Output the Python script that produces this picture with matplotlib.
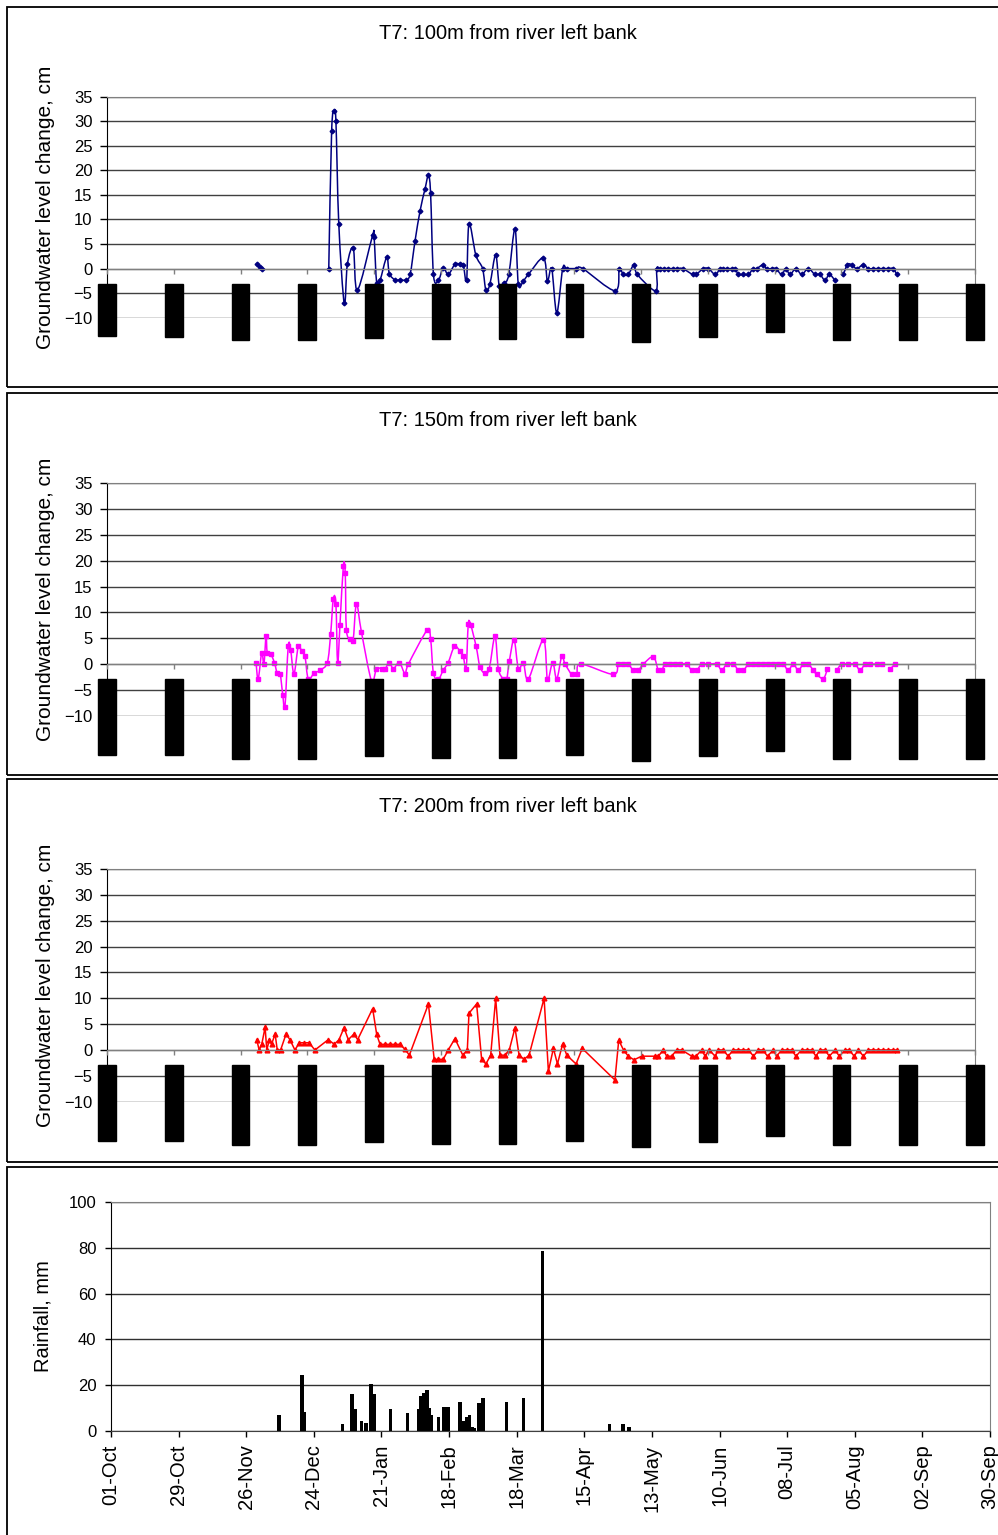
import numpy as np
import matplotlib
matplotlib.use('Agg')
import matplotlib.pyplot as plt
from matplotlib.patches import Rectangle, PathPatch
from matplotlib.path import Path

plt.rcParams['font.family'] = ['Liberation Sans', 'DejaVu Sans']

nan = np.nan

# x axis: days since 01-Oct, ticks every 28 days
tick_days = [0, 28, 56, 84, 112, 140, 168, 196, 224, 252, 280, 308, 336, 364]
tick_labels = ['01-Oct', '29-Oct', '26-Nov', '24-Dec', '21-Jan', '18-Feb', '18-Mar',
               '15-Apr', '13-May', '10-Jun', '08-Jul', '05-Aug', '02-Sep', '30-Sep']

gw_ticks = [-10, -5, 0, 5, 10, 15, 20, 25, 30, 35]
rain_ticks = [0, 20, 40, 60, 80, 100]

# T7 100m
day_100 = [63, 64, 65, nan,
           93, 94.2, 95.3, 96, 97.2, 99.5, 100.8, 103.3, 105, 111.4, 112, 113.1,
           114.5, 117.3, 118.4, 120.8, 122.9, 125.2, 127.1, 129.2, 131.3, 133.4,
           134.8, 135.7, 136.9, 139, 141, 143.1, 145.9, 148, 149.4, 150.8, 151.8,
           154.7, 157.5, 158.9, 160.6, 163, 164.5, 166.5, 168.5, 171.1, 172.5, 174.6,
           176.7, 183, 184.7, 186.5, 188.6, 191.1, 192.8, 196.7, 199.5, 213, 214.8,
           216.5, 218.6, 221, 222.4, 230.1, 230.5, 231.9, 233.6, 235.4, 237.2, 239.2, 241.4,
           245.6, 247, 250.1, 252.2, 255.1, 257.1, 258.5, 260.2, 262, 263.4, 264.8,
           266.9, 269, 271, 272.4, 275.2, 276.6, 278.7, 280.5, 282.9, 284.7, 286.4,
           288.9, 291.3, 294.1, 296.9, 299, 301.1, 302.9, 305.3, nan, 308.8, 310.5, 312.3,
           314.4, 317.2, 319.3, 321.4, 323.5, 325.6, 327.6, 329.7, 331.2]
gw_100 = [1, 0.3, 0, nan,
          0, 28, 32, 30, 9.1, -7.1, 0.9, 4.1, -4.4, 6.8, 6.5, -3,
          -2.4, 2.3, -1, -2.3, -2.3, -2.3, -1.2, 5.7, 11.8, 16.3,
          19, 15.3, -1.2, -2.4, 0.2, -1.2, 0.9, 0.9, 0.7, -2.4, 9.1,
          2.7, 0, -4.4, -3.1, 2.8, -3.5, -3, -1.2, 8.1, -3.2, -2.5,
          -1.2, 2.2, -2.5, 0, -9, 0, 0, 0, 0, -4.5, 0,
          -1.2, -1.2, 0.8, -1.2, -4.5, 0, 0, 0, 0, 0, 0, 0,
          -1.2, -1.2, 0, 0, -1.2, 0, 0, 0, 0, 0, -1.2,
          -1.2, -1.2, 0, 0, 0.8, 0, 0, 0, -1.2, 0, -1.2,
          0, -1.2, 0, -1.2, -1.2, -2.4, -1.2, -2.4, nan, -1.2, 0.8, 0.8,
          0, 0.8, 0, 0, 0, 0, 0, 0, -1.2]

# T7 150m
day_150 = [62.5, 63.4, 64.9, 65.8, 66.7, 67.2, 68.6, 70.2, 71.4, 72.6, 73.7, 74.6,
           76.0, 77.0, 78.4, 80.2, 81.6, 83.0, 84.4, 86.8, 89.3, 92.4, 93.8, 94.9,
           96.0, 96.7, 97.7, 99.1, 99.9, 100.4, 102.1, 103.2, 104.6, 106.7, 110.9, 113.0,
           115.2, 116.6, 118.4, 120.1, 122.6, 125.0, 126.4, 134.3, 135.7, 136.9, 139.0, 141.0,
           143.1, 145.7, 148.0, 149.4, 150.6, 151.5, 152.5, 154.8, 156.4, 158.5, 160.3, 162.7,
           164.1, 166.2, 167.6, 168.7, 170.7, 172.5, 174.6, 176.7, 183.0, 184.7, 186.9, 188.6,
           190.7, 192.1, 194.9, 197.0, 198.7, 212.3, 214.4, 216.5, 218.6, 220.7, 222.8, 224.9,
           229.1, 231.2, 232.6, 234.0, 236.1, 238.2, 240.3, 243.1, 245.2, 247.3, 249.4, 252.2,
           255.7, 257.8, 259.9, 262.7, 264.8, 266.9, 269.0, 271.0, 273.1, 275.2, 277.3, 279.4,
           281.5, 283.6, 285.7, 287.8, 289.9, 292.0, 294.1, 296.2, 297.6, 300.4, 302.1, nan,
           306.0, 308.1, 310.9, 313.7, 315.8, 317.9, 320.0, 322.8, 324.9, nan, 328.4, 330.4]
gw_150 = [0.3, -2.9, 2.2, 0, 5.4, 2.2, 2.0, 0.3, -1.8, -1.9, -5.9, -8.4,
          3.4, 2.8, -1.9, 3.4, 2.5, 1.5, -2.9, -1.8, -1.2, 0.3, 5.9, 12.6,
          11.6, 0.3, 7.6, 18.9, 17.7, 6.6, 4.9, 4.5, 11.6, 6.2, -3.2, -0.9,
          -0.9, -0.9, 0.3, -0.9, 0.3, -1.9, 0, 6.6, 4.9, -1.8, -2.9, -1.2,
          0.3, 3.4, 2.5, 1.5, -0.9, 7.7, 7.6, 3.4, -0.5, -1.8, -0.9, 5.4,
          -0.9, -2.9, -2.9, 0.5, 4.7, -0.9, 0.3, -2.9, 4.7, -2.9, 0.3, -2.9,
          1.5, 0, -2, -2, 0, -2, 0, 0, 0, -1.2, -1.2, 0,
          1.4, -1.2, -1.2, 0, 0, 0, 0, 0, -1.2, -1.2, 0, 0,
          0, -1.2, 0, 0, -1.2, -1.2, 0, 0, 0, 0, 0, 0,
          0, 0, -1.2, 0, -1.2, 0, 0, -1.2, -2, -2.8, -1, nan,
          -1.2, 0, 0, 0, -1.2, 0, 0, 0, 0, nan, -1, 0]

# T7 200m
day_200 = [62.8, 63.8, 64.9, 66.3, 67.0, 68.1, 69.0, 70.5, 71.4, 72.8, 75.1, 76.7,
           78.8, 80.7, 82.6, 84.7, 87.2, 92.8, 95.3, 97.3, 99.4, 101.2, 103.6, 105.1,
           111.4, 113.1, 114.5, 116.6, 118.7, 120.8, 122.9, 125.0, 126.8, 134.8, 137.2, 139.0,
           141.0, 143.1, 145.9, 149.2, 151.1, 151.8, 155.0, 157.1, 158.9, 160.9, 163.0, 164.8,
           166.9, 168.7, 171.1, 172.8, 174.9, 177.0, 183.3, 185.1, 187.2, 188.9, 191.1, 192.8,
           196.7, 199.3, 213.0, 214.6, 216.6, 218.6, 221.0, 224.2, 229.8, 231.2, 233.3, 234.7,
           236.8, 238.9, 241.0, 245.2, 247.0, 249.4, 250.8, 252.6, 255.0, 256.4, 258.4, 260.5,
           262.6, 264.7, 266.8, 269.0, 271.1, 273.2, 275.0, 277.0, 279.4, 280.8, 282.9, 285.0,
           287.1, 288.9, 291.3, 293.4, 295.5, 297.3, 299.0, 301.1, 302.9, 305.3, 307.1, 309.5,
           311.3, 313.3, 315.1, 317.2, 319.3, 321.4, 323.5, 325.6, 327.6, 329.7, 331.1]
gw_200 = [2.0, 0, 1.1, 4.4, 0, 2.0, 1.1, 3.1, 0, 0, 3.1, 2.0,
          0, 1.4, 1.4, 1.4, 0, 2.0, 1.1, 2.0, 4.3, 2.0, 3.1, 2.0,
          8.0, 3.0, 1.1, 1.1, 1.1, 1.1, 1.1, 0.1, -1.0, 8.9, -1.8, -1.8,
          -1.8, 0, 2.2, -1.0, 0, 7.1, 8.9, -1.8, -2.7, -1.0, 10.0, -1.0,
          -1.0, 0, 4.3, -1.0, -1.8, -1.0, 10.0, -4.1, 0.3, -2.7, 1.2, -1.0,
          -2.7, 0.3, -5.8, 1.9, 0, -1.2, -1.9, -1.2, -1.2, -1.2, 0, -1.2,
          -1.2, 0, 0, -1.2, -1.2, 0, -1.2, 0, -1.2, 0, 0, -1.2,
          0, 0, 0, 0, -1.2, 0, 0, -1.2, 0, -1.2, 0, 0,
          0, -1.2, 0, 0, 0, -1.2, 0, 0, -1.2, 0, -1.2, 0,
          0, -1.2, 0, -1.2, 0, 0, 0, 0, 0, 0, 0]

# daily rainfall
rain_day = [69.5, 79.0, 80.0, 95.8, 99.9, 101.0, 103.7, 105.5, 107.6, 108.8,
            115.7, 122.8, 127.5, 128.3, 129.7, 130.9, 131.7, 132.7, 135.6, 137.8,
            139.6, 144.4, 145.8, 147.3, 148.4, 149.6, 150.6, 152.3, 154.0, 163.8,
            170.8, 178.7, 206.5, 212.1, 214.6]
rain_mm = [6.9, 24.4, 8.3, 2.8, 16.1, 9.4, 4.4, 3.5, 20.3, 16.1,
           9.4, 7.6, 9.4, 15.2, 16.7, 17.8, 10.1, 6.9, 6.1, 10.2,
           10.2, 12.7, 4.4, 6.1, 6.9, 1.8, 1.0, 12.0, 14.5, 12.7,
           14.5, 78.5, 2.8, 2.8, 1.8]

W, H = 998, 1535
fig = plt.figure(figsize=(W / 100, H / 100), dpi=100)


def rect(left, top, right, bottom):
    return [left / W, 1 - bottom / H, (right - left) / W, (bottom - top) / H]


def smooth_path(xs, ys):
    # spreadsheet-style smoothed line: cubic bezier through every point
    xs = np.asarray(xs, float)
    ys = np.asarray(ys, float)
    verts, codes = [], []
    bad = np.isnan(xs) | np.isnan(ys)
    idx = np.flatnonzero(~bad)
    runs = np.split(idx, np.flatnonzero(np.diff(idx) > 1) + 1)
    for run in runs:
        p = np.column_stack([xs[run], ys[run]])
        n = len(p)
        if n == 0:
            continue
        verts.append(p[0])
        codes.append(Path.MOVETO)
        for i in range(n - 1):
            p0 = p[i - 1] if i > 0 else p[i]
            p3 = p[i + 2] if i + 2 < n else p[i + 1]
            c1 = p[i] + (p[i + 1] - p0) / 6
            c2 = p[i + 1] - (p3 - p[i]) / 6
            verts += [c1, c2, p[i + 1]]
            codes += [Path.CURVE4] * 3
    return Path(verts, codes)


# panel frames
for top, bottom in [(7, 387), (393, 775), (778.5, 1161.5), (1167, 1545)]:
    fig.add_artist(Rectangle((7 / W, 1 - bottom / H), 1.2, (bottom - top) / H,
                             transform=fig.transFigure, fill=False,
                             ec='black', lw=1.3, clip_on=False))


def gw_panel(pos, days, vals, color, marker, ms, title, title_y, lead, smooth):
    ax = fig.add_axes(rect(*pos))
    if smooth:
        ax.add_patch(PathPatch(smooth_path(days, vals), fill=False,
                               ec=color, lw=1.1, zorder=2))
        ax.plot(days, vals, ls='none', marker=marker, ms=ms,
                mec=color, mfc=color, zorder=2)
    else:
        ax.plot(days, vals, color=color, lw=1.1, marker=marker, ms=ms,
                mec=color, mfc=color, zorder=2)
    ax.set_xlim(0, 364)
    ax.set_ylim(-10, 35)
    ax.set_yticks(gw_ticks)
    ax.set_xticks(tick_days, labels=[' ' * lead + t for t in tick_labels])
    ax.yaxis.grid(True, color='#404040', lw=1.0)
    ax.yaxis.set_zorder(0.5)
    ax.xaxis.set_zorder(3)
    for s in ['top', 'right']:
        ax.spines[s].set_color('#808080')
    ax.spines['left'].set_color('black')
    ax.spines['bottom'].set_position(('data', 0))
    ax.spines['bottom'].set_color('#808080')
    ax.tick_params(axis='y', direction='out', length=5, width=1,
                   labelsize=12, pad=5.5)
    ax.tick_params(axis='x', direction='out', length=3.5, width=1,
                   color='#808080', labelsize=12, pad=8.5, labelrotation=90)
    for lab in ax.get_xticklabels():
        lab.set_color('black')
        lab.set_bbox(dict(facecolor='black', edgecolor='black', pad=1))
    ax.set_ylabel('Groundwater level change, cm', fontsize=15)
    ax.yaxis.set_label_coords(-0.06, 0.5)
    fig.text(508 / W, 1 - title_y / H, title, ha='center', va='baseline',
             fontsize=14.5)
    return ax


gw_panel((107, 96.7, 975, 317.7), day_100, gw_100, '#000080', 'D', 2.4,
         'T7: 100m from river left bank', 39.3, 0, True)
gw_panel((107, 483.3, 975, 715.7), day_150, gw_150, '#FF00FF', 's', 2.2,
         'T7: 150m from river left bank', 426, 5, True)
gw_panel((107, 869, 975, 1101.7), day_200, gw_200, '#FF0000', '^', 3.4,
         'T7: 200m from river left bank', 811.7, 5, False)

# rainfall
ax4 = fig.add_axes(rect(111, 1202.3, 990, 1430.7))
ax4.bar(rain_day, rain_mm, width=1.5, color='black', zorder=2)
ax4.set_xlim(0, 364)
ax4.set_ylim(0, 100)
ax4.set_yticks(rain_ticks)
ax4.set_xticks(tick_days, labels=tick_labels)
ax4.yaxis.grid(True, color='#303030', lw=1.0)
ax4.yaxis.set_zorder(0.5)
for s in ['top', 'right']:
    ax4.spines[s].set_color('#808080')
ax4.spines['left'].set_color('black')
ax4.spines['bottom'].set_color('#404040')
ax4.tick_params(axis='y', direction='out', length=4.5, width=1,
                labelsize=12, pad=6)
ax4.tick_params(axis='x', direction='out', length=4, width=1,
                labelsize=14.5, pad=6, labelrotation=90)
ax4.set_ylabel('Rainfall, mm', fontsize=14.5)
ax4.yaxis.set_label_coords(-0.066, 0.5)

fig.savefig('out.png', dpi=100, facecolor='white')
